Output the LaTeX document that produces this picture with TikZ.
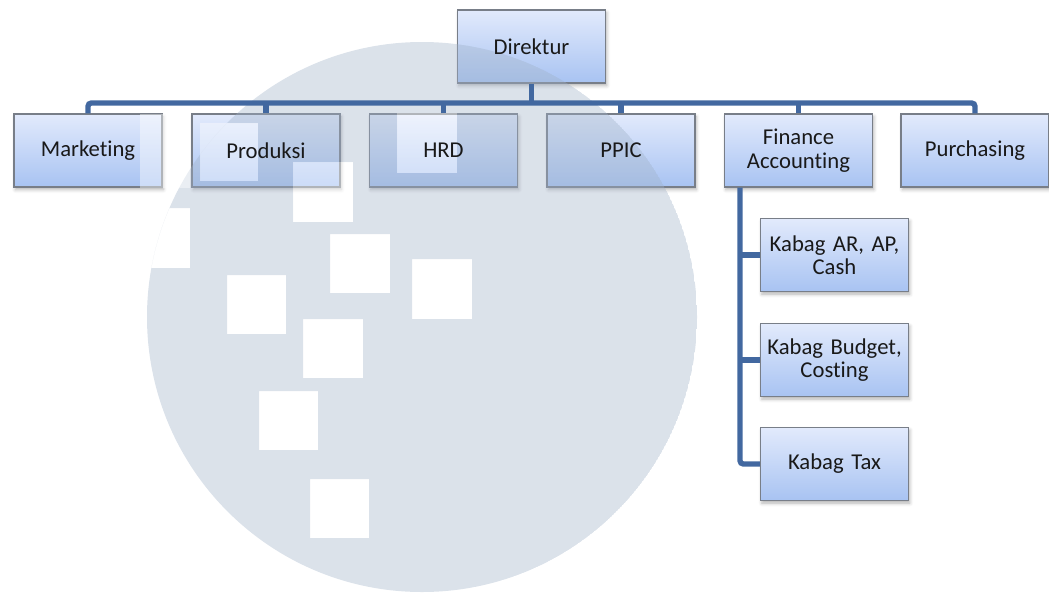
\documentclass[tikz,border=0pt]{standalone}
\usepackage{fontspec}
\setmainfont{Carlito}[Ligatures=NoCommon]
\usetikzlibrary{shadows.blur}
\definecolor{boxtop}{RGB}{226,234,252}
\definecolor{boxbot}{RGB}{168,195,242}
\definecolor{boxline}{RGB}{120,126,136}
\definecolor{connc}{RGB}{66,104,160}
\definecolor{wmc}{RGB}{160,178,200}
\definecolor{txt}{RGB}{25,25,25}
\begin{document}
\frenchspacing
\begin{tikzpicture}[x=0.75pt,y=-0.75pt,
  orgbox/.style={rectangle, draw=boxline, line width=0.8pt, top color=boxtop, bottom color=boxbot,
    minimum width=111pt, minimum height=54.75pt, inner sep=0pt,
    blur shadow={shadow xshift=1pt, shadow yshift=-2pt, shadow blur radius=2.5pt, shadow opacity=30}},
  lbl/.style={text width=108pt, align=center, font=\fontsize{17}{17.5}\selectfont, text=txt, inner sep=0pt},
  link/.style={draw=connc, line width=4pt, rounded corners=2.5pt},
  wmhole/.style={fill=white, fill opacity=0.42}]
\useasboundingbox (0,0) rectangle (1049,593);

% boxes
\node[orgbox] (dir) at (531.5,46.5) {};
\node[orgbox] (mkt) at (88,150.5) {};
\node[orgbox] (pro) at (266,150.5) {};
\node[orgbox] (hrd) at (443.5,150.5) {};
\node[orgbox] (ppic) at (621,150.5) {};
\node[orgbox] (fin) at (798.5,150.5) {};
\node[orgbox] (pur) at (975,150.5) {};
\node[orgbox] (ar) at (834.5,255) {};
\node[orgbox] (bud) at (834.5,360) {};
\node[orgbox] (tax) at (834.5,464) {};

% watermark
\begin{scope}
  \clip (422,317) circle[radius=275];
  \fill[wmc, fill opacity=0.38, even odd rule] (422,317) circle[radius=275]
    (130,208) rectangle ++(60,60)
    (200,123) rectangle ++(58,58)
    (293,162) rectangle ++(60,60)
    (397,113) rectangle ++(60,60)
    (330,234) rectangle ++(60,59)
    (412,259) rectangle ++(60,60)
    (227,275) rectangle ++(59,59)
    (303,319) rectangle ++(60,59)
    (259,391) rectangle ++(59,59)
    (310,479) rectangle ++(59,59);
\end{scope}
\fill[wmhole] (140,114) rectangle (190,188);
\fill[wmhole] (200,123) rectangle ++(58,58);
\fill[wmhole] (293,162) rectangle ++(60,60);
\fill[wmhole] (397,113) rectangle ++(60,60);

% connectors
\coordinate (bus) at (0,103);
\coordinate (fx) at (740,190);
\draw[link] (dir.south) -- (dir.south |- bus);
\draw[link] (mkt.north) -- (mkt.north |- bus) -- (pur.north |- bus) -- (pur.north);
\foreach \n in {pro,hrd,ppic,fin}{
  \draw[link] (\n.north) -- (\n.north |- bus);
}
\draw[link] (fin.south -| fx) -- (fx |- tax.west) -- (tax.west);
\draw[link] (fx |- ar.west) -- (ar.west);
\draw[link] (fx |- bud.west) -- (bud.west);

% labels
\node[lbl] (dirt) at (dir) {Direktur};
\node[lbl] (mktt) at (mkt) {Marketing};
\node[lbl] (prot) at (pro) {Produksi};
\node[lbl] (hrdt) at (hrd) {HRD};
\node[lbl] (ppict) at (ppic) {PPIC};
\node[lbl] (fint) at (fin) {Finance\\Accounting};
\node[lbl] (purt) at (pur) {Purchasing};
\node[lbl] (art) at (ar) {Kabag AR, AP,\\Cash};
\node[lbl] (budt) at (bud) {Kabag Budget,\\Costing};
\node[lbl] (taxt) at (tax) {Kabag Tax};
\end{tikzpicture}
\end{document}
